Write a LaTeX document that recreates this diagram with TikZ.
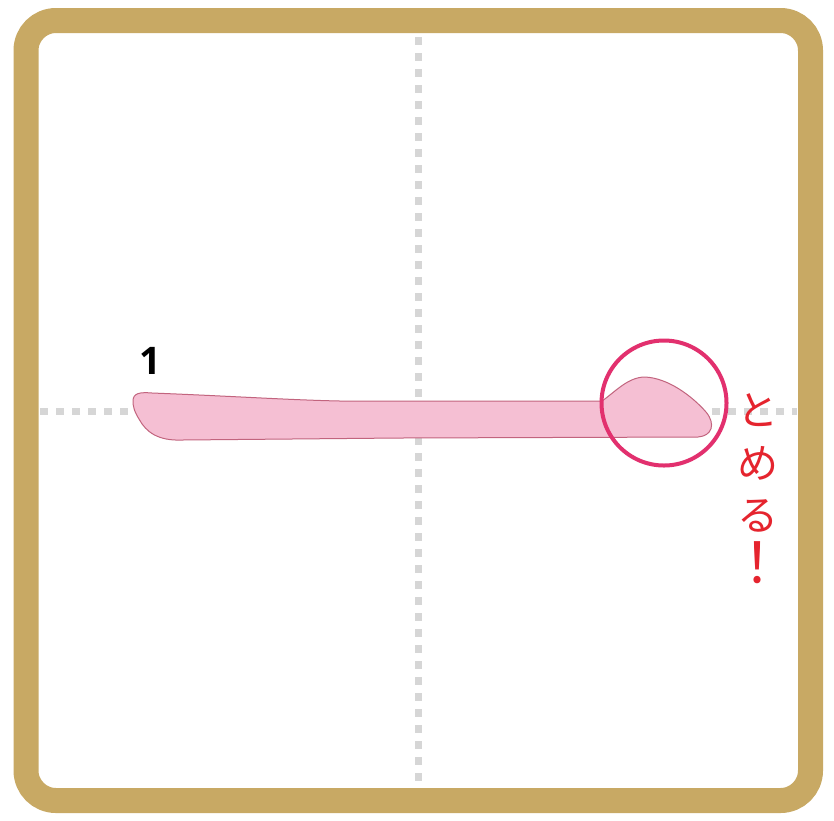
\documentclass[tikz,border=0pt]{standalone}
\usepackage{fontspec}
\setmainfont{Open Sans}
\newfontfamily\jpfont{Noto Sans CJK JP}
\definecolor{frametan}{HTML}{C8A964}
\definecolor{dotgrey}{HTML}{D6D6D6}
\definecolor{strokepink}{HTML}{F5BFD3}
\definecolor{strokeedge}{HTML}{C2647E}
\definecolor{ringmag}{HTML}{E2306E}
\definecolor{notered}{HTML}{E5242E}
\tikzset{
  framebox/.style={draw=frametan, line width=25pt, rounded corners=30pt},
  guide/.style={draw=dotgrey, line width=7pt, dash pattern=on 8pt off 8pt},
  brush/.style={fill=strokepink, draw=strokeedge, line width=1pt},
  ring/.style={draw=ringmag, line width=4pt},
  notechar/.style={text=notered, font=\jpfont\fontsize{41}{41}\selectfont, inner sep=0pt},
  numlabel/.style={font=\bfseries\fontsize{38}{38}\selectfont, inner sep=0pt}
}
\begin{document}
\begin{tikzpicture}[x=1pt,y=-1pt]
\useasboundingbox (0,0) rectangle (834,820);
\fill[white] (0,0) rectangle (834,820);
% guide lines
\coordinate (vt) at (418,37);
\coordinate (vb) at (418,790);
\coordinate (hl) at (40,411);
\coordinate (hr) at (797,411);
\draw[guide] (vt) -- (vb);
\draw[guide] (hl) -- (hr);
% frame
\draw[framebox] (26,20.5) rectangle (810.5,800.5);
% brush stroke
\path[brush] (133,401) .. controls (133,393) and (140,392) .. (152,393)
  .. controls (230,396) and (290,400) .. (340,401)
  -- (602,401)
  .. controls (615,392) and (628,377) .. (645,377)
  .. controls (668,378) and (692,396) .. (706,412)
  .. controls (716,424) and (712,436) .. (698,437)
  -- (400,438) -- (182,440)
  .. controls (158,441) and (146,432) .. (139,419)
  .. controls (134,411) and (133,406) .. (133,401) -- cycle;
% ring
\node[ring, circle, minimum size=125pt, inner sep=0pt] (ring) at (664,403) {};
% label
\node[numlabel] (n1) at (150,361) {1};
% vertical note
\node[notechar] (c1) at (758,410) {と};
\node[notechar] (c2) at (758,463) {め};
\node[notechar] (c3) at (758,516) {る};
\node[notechar, font=\jpfont\fontsize{56}{56}\selectfont] (c4) at (757,563) {！};
\end{tikzpicture}
\end{document}
